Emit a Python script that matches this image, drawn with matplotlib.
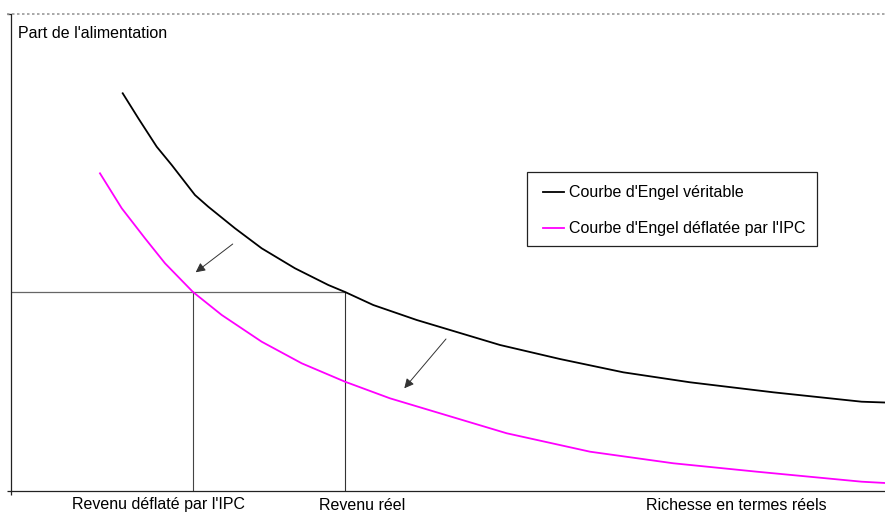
import matplotlib
matplotlib.use("Agg")
import matplotlib.pyplot as plt
from matplotlib.lines import Line2D
from matplotlib.patches import Rectangle

plt.rcParams['font.family'] = ['Liberation Sans', 'DejaVu Sans']

# True Engel curve (real income units, food share)
true_x = [12.78, 14.57, 16.67, 18.39, 21.05, 22.57, 25.63, 28.68, 32.49, 36.30, 38.22,
          41.45, 46.42, 55.95, 62.81, 70.06, 77.69, 87.22, 97.33, 100.0]
true_y = [83.38, 78.13, 72.18, 68.34, 62.05, 59.60, 55.07, 50.88, 46.69, 43.19, 41.72,
          38.99, 35.85, 30.61, 27.67, 24.88, 22.79, 20.69, 18.72, 18.55]

# CPI-deflated Engel curve
defl_x = [10.18, 12.67, 15.33, 17.62, 20.82, 24.11, 28.68, 33.26, 38.22, 43.36, 49.08,
          56.72, 66.25, 75.78, 85.32, 97.33, 100.0]
defl_y = [66.60, 59.27, 52.98, 47.74, 41.72, 36.90, 31.30, 26.77, 22.91, 19.43, 16.29,
          12.10, 8.24, 5.81, 4.05, 1.95, 1.68]

share_level = 41.72
income_deflated = 20.82
income_real = 38.22

arrows = [((25.37, 51.78), (21.13, 45.85)), ((49.77, 31.87), (45.0, 21.53))]

series_labels = ["Courbe d'Engel véritable", "Courbe d'Engel déflatée par l'IPC"]
series_colors = ['black', '#ff00ff']
y_title = "Part de l'alimentation"
x_labels = ["Revenu déflaté par l'IPC", "Revenu réel", "Richesse en termes réels"]

W, H = 885, 515
fig = plt.figure(figsize=(W / 100, H / 100), dpi=100)
ax = fig.add_axes([11 / W, (515 - 491) / H, (885 - 11) / W, (491 - 14) / H])
ax.set_xlim(0, 100)
ax.set_ylim(0, 100)

for s in ['top', 'right']:
    ax.spines[s].set_visible(False)
for s in ['left', 'bottom']:
    ax.spines[s].set_linewidth(0.9)
    ax.spines[s].set_color('#222222')

ax.set_xticks([0])
ax.set_yticks([0, 100])
ax.set_xticklabels([])
ax.set_yticklabels([])
ax.tick_params(length=3, width=0.9, color='#222222', direction='out')

# reference lines
ax.plot([0, income_real], [share_level, share_level], color='#666666', lw=0.9)
ax.plot([income_deflated, income_deflated], [0, share_level], color='#444444', lw=0.8)
ax.plot([income_real, income_real], [0, share_level], color='#333333', lw=0.8)

ax.plot(true_x, true_y, color=series_colors[0], lw=1.3, clip_on=False)
ax.plot(defl_x, defl_y, color=series_colors[1], lw=1.3, clip_on=False)

for (x0, y0), (x1, y1) in arrows:
    ax.annotate('', xy=(x1, y1), xytext=(x0, y0),
                arrowprops=dict(arrowstyle='-|>', color='#333333', lw=0.7,
                                mutation_scale=14, shrinkA=0, shrinkB=0,
                                facecolor='black'))

# dotted top border
fig.add_artist(Line2D([7 / W, 1.0], [(515 - 14) / H] * 2, color='#999999',
                      lw=1.2, linestyle=(0, (1.5, 1.5))))

fs = 11.5
fig.text(18 / W, (515 - 34) / H, y_title, fontsize=fs, va='center', ha='left')
fig.text(158 / W, (515 - 505) / H, x_labels[0], fontsize=fs, va='center', ha='center')
fig.text(362 / W, (515 - 505) / H, x_labels[1], fontsize=fs, va='center', ha='center')
fig.text(736 / W, (515 - 505) / H, x_labels[2], fontsize=fs, va='center', ha='center')

# legend box (drawn manually for exact placement)
fig.add_artist(Rectangle((527 / W, (515 - 246) / H), (817 - 527) / W, (246 - 172) / H,
                         transform=fig.transFigure, facecolor='white',
                         edgecolor='#222222', lw=0.9))
for i, (lab, col) in enumerate(zip(series_labels, series_colors)):
    yy = (515 - (192 + 36 * i)) / H
    fig.add_artist(Line2D([543 / W, 564 / W], [yy, yy], color=col, lw=1.3))
    fig.text(569 / W, yy, lab, fontsize=fs, va='center', ha='left')

fig.savefig('out.png', dpi=100, facecolor='white')
